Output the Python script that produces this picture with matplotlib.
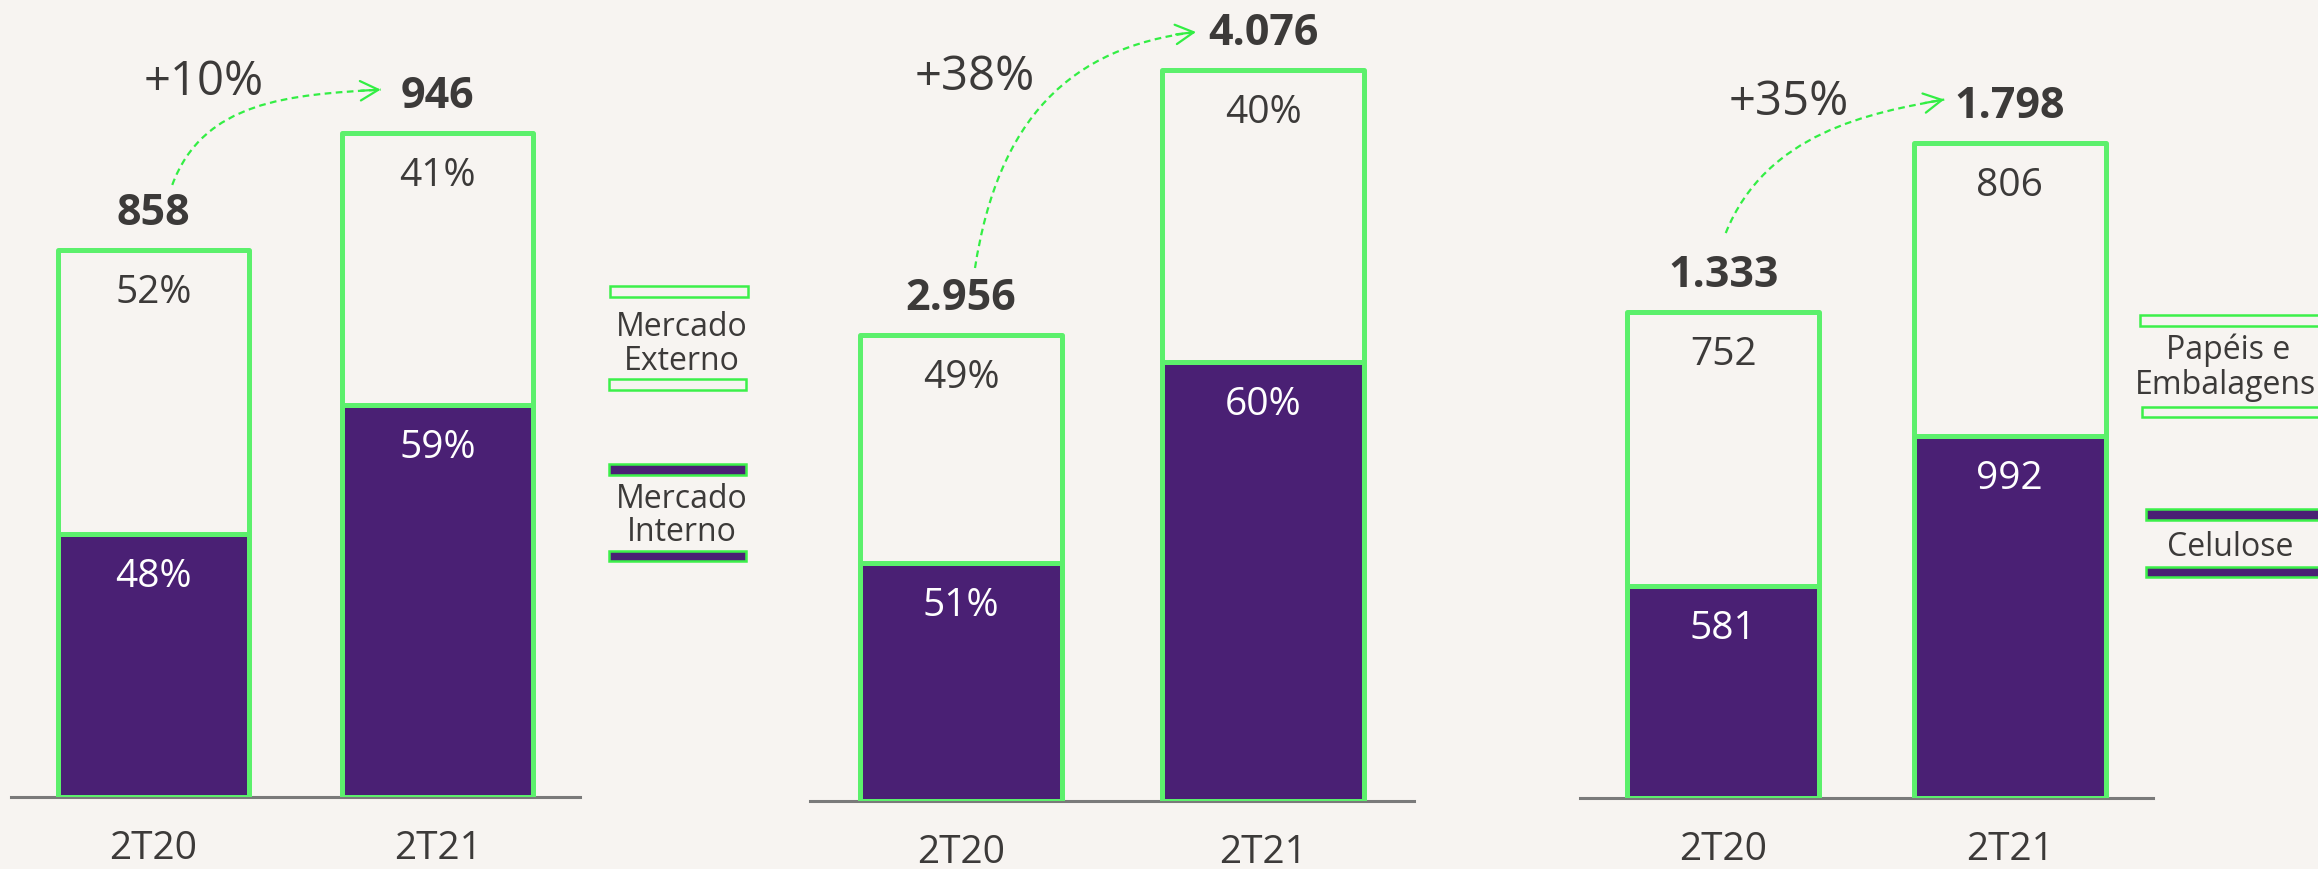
import matplotlib
matplotlib.use("Agg")
import matplotlib.pyplot as plt
import numpy as np
from matplotlib.patches import Rectangle, PathPatch, FancyArrowPatch
from matplotlib.path import Path

# --- dados ---
trimestres = ["2T20", "2T21"]

# painel 1: Mercado Interno / Externo (volume)
vol_total = ["858", "946"]
vol_interno = [48, 59]
vol_externo = [52, 41]
vol_altura = [858, 1042]      # altura das barras como desenhada no original

# painel 2: Mercado Interno / Externo (receita)
rec_total = ["2.956", "4.076"]
rec_interno = [51, 60]
rec_externo = [49, 40]
rec_altura = [2956, 4637]     # altura das barras como desenhada no original

# painel 3: Celulose / Papéis e Embalagens
celulose = [581, 992]
papeis = [752, 806]
cel_total = ["1.333", "1.798"]

crescimento = ["+10%", "+38%", "+35%"]

# --- estilo ---
BG = "#F7F4F1"
ROXO = "#4A2074"
VERDE = "#5CF06C"
VERDE_LEG = "#3CF04A"
VERDE_SETA = "#33EE44"
TEXTO = "#3C3A39"
CINZA = "#7A7A7A"

plt.rcParams["font.family"] = ["Open Sans", "DejaVu Sans"]

W, H, DPI = 2318, 869, 100
fig = plt.figure(figsize=(W / DPI, H / DPI), dpi=DPI, facecolor=BG)


def fx(x):
    return x / W


def fy(y):
    return 1 - y / H


def to_fig(p):
    return fig.transFigure.inverted().transform(p)


def painel(box, ylim, inferior, superior, lab_inf, lab_sup, lab_tot, cresc_txt, cresc_pos, seta):
    x0, x1, ybase = box
    ax = fig.add_axes([fx(x0), fy(ybase), (x1 - x0) / W, ybase / H])
    ax.set_facecolor("none")
    ax.set_xlim(-0.5, 1.5)
    ax.set_ylim(0, ylim)
    for s in ["top", "left", "right"]:
        ax.spines[s].set_visible(False)
    ax.spines["bottom"].set_color(CINZA)
    ax.spines["bottom"].set_linewidth(2.2)
    ax.spines["bottom"].set_zorder(2)
    ax.set_xticks([])
    ax.set_yticks([])

    x = np.arange(len(trimestres))
    ax.bar(x, inferior, width=0.67, color=ROXO, edgecolor=VERDE, linewidth=3.6,
           joinstyle="round", zorder=3)
    ax.bar(x, superior, width=0.67, bottom=inferior, color=BG, edgecolor=VERDE,
           linewidth=3.6, joinstyle="round", zorder=3)

    for i in x:
        topo = inferior[i] + superior[i]
        ax.annotate(lab_inf[i], xy=(i, inferior[i]), xytext=(0, -53), textcoords="offset pixels",
                    ha="center", va="baseline", fontsize=28, color="white", zorder=6)
        ax.annotate(lab_sup[i], xy=(i, topo), xytext=(0, -53), textcoords="offset pixels",
                    ha="center", va="baseline", fontsize=28, color=TEXTO, zorder=6)
        ax.annotate(lab_tot[i], xy=(i, topo), xytext=(0, 25), textcoords="offset pixels",
                    ha="center", va="baseline", fontsize=31, fontweight="bold", color=TEXTO,
                    annotation_clip=False)
        ax.annotate(trimestres[i], xy=(i, 0), xytext=(0, -62), textcoords="offset pixels",
                    ha="center", va="baseline", fontsize=28, color=TEXTO, annotation_clip=False)

    # seta tracejada entre as barras
    (sx, sy), (c1x, c1y), (c2x, c2y), (ex, ey) = seta
    topo0 = inferior[0] + superior[0]
    topo1 = inferior[1] + superior[1]
    b0 = ax.transData.transform((0, topo0))
    b1 = ax.transData.transform((1, topo1))
    S = b0 + np.array([sx, -sy])
    E = b1 + np.array([ex, -ey])
    C1 = S + np.array([c1x, -c1y])
    C2 = E + np.array([c2x, -c2y])
    pts = [to_fig(p) for p in (S, C1, C2, E)]
    path = Path(pts, [Path.MOVETO, Path.CURVE4, Path.CURVE4, Path.CURVE4])
    fig.add_artist(PathPatch(path, fill=False, edgecolor=VERDE_SETA, linewidth=1.6,
                             linestyle=(0, (3, 2)), transform=fig.transFigure))
    u = (E - C2) / np.linalg.norm(E - C2)
    fig.add_artist(FancyArrowPatch(to_fig(E - 20 * u), to_fig(E),
                                   arrowstyle="->,head_length=0.65,head_width=0.35",
                                   mutation_scale=20, color=VERDE_SETA, linewidth=1.6,
                                   shrinkA=0, shrinkB=0, transform=fig.transFigure))

    gx, gy = cresc_pos
    fig.text(fx(gx), fy(gy), cresc_txt, ha="center", va="baseline",
             fontsize=34, color=TEXTO)
    return ax


def legenda_rect(x0, y0, x1, y1, fc):
    fig.add_artist(Rectangle((fx(x0), fy(y1)), (x1 - x0) / W, (y1 - y0) / H,
                             transform=fig.transFigure, facecolor=fc,
                             edgecolor=VERDE_LEG, linewidth=1.8))


def legenda_txt(x, y, s):
    fig.text(fx(x), fy(y), s, ha="center", va="baseline", fontsize=23, color=TEXTO)


# painel 1
v_inf = [h * p / 100 for h, p in zip(vol_altura, vol_interno)]
v_sup = [h * p / 100 for h, p in zip(vol_altura, vol_externo)]
painel((11, 580, 797), 1250, v_inf, v_sup,
       [f"{p}%" for p in vol_interno], [f"{p}%" for p in vol_externo], vol_total,
       crescimento[0], (204, 95), [(19, -65), (31, -84), (-91, 5), (-57, -43)])

# painel 2
r_inf = [h * p / 100 for h, p in zip(rec_altura, rec_interno)]
r_sup = [h * p / 100 for h, p in zip(rec_altura, rec_externo)]
painel((810, 1414, 801), 5081, r_inf, r_sup,
       [f"{p}%" for p in rec_interno], [f"{p}%" for p in rec_externo], rec_total,
       crescimento[1], (975, 90), [(14, -67), (23, -148), (-127, 15), (-67, -38)])

# painel 3
painel((1580, 2153, 798), 2189, celulose, papeis,
       [str(v) for v in celulose], [str(v) for v in papeis], cel_total,
       crescimento[2], (1789, 115), [(2.5, -79), (40, -100), (-74, 13), (-65.5, -43)])

# legendas
legenda_rect(610, 286, 748, 297, BG)
legenda_txt(682, 336, "Mercado")
legenda_txt(682, 370, "Externo")
legenda_rect(609, 379, 746, 390, BG)
legenda_rect(609, 464, 746, 475, ROXO)
legenda_txt(682, 508, "Mercado")
legenda_txt(682, 541, "Interno")
legenda_rect(609, 551, 746, 561, ROXO)

legenda_rect(2140, 315, 2340, 326, BG)
legenda_txt(2228, 359, "Papéis e")
legenda_txt(2226, 394, "Embalagens")
legenda_rect(2142, 407, 2340, 417, BG)
legenda_rect(2146, 509, 2340, 520, ROXO)
legenda_txt(2230, 556, "Celulose")
legenda_rect(2146, 567, 2340, 577, ROXO)

fig.savefig("out.png", dpi=DPI, facecolor=BG)
